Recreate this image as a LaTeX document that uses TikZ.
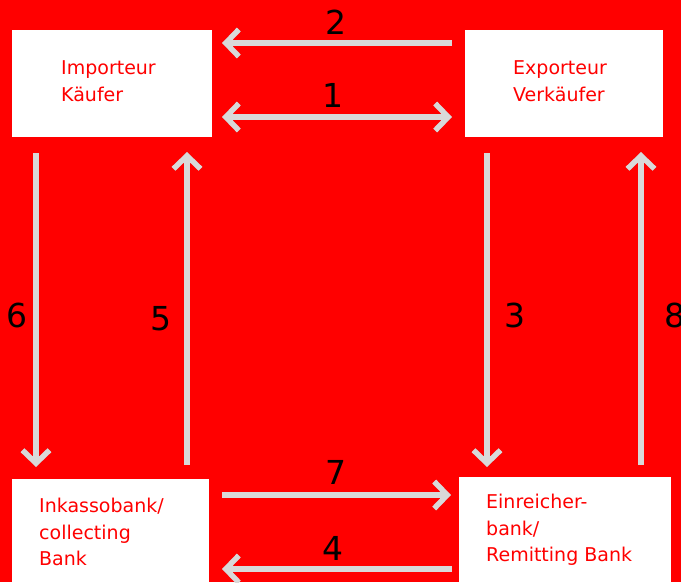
\documentclass[tikz,border=0pt]{standalone}
\usepackage{fontspec}
\setmainfont{DejaVu Sans}
\usetikzlibrary{arrows.meta}
\definecolor{bgred}{RGB}{255,0,0}
\definecolor{arrgray}{RGB}{217,217,217}
\newcommand\garrow[3]{%
  \draw[shadowline,#1] (#2) -- (#3);
  \draw[arrline,#1] (#2) -- (#3);}
\begin{document}
\begin{tikzpicture}[x=1pt,y=-1pt,
  box/.style={draw=none,fill=white,inner sep=0pt},
  boxtext/.style={anchor=west,inner sep=0pt,align=left,text=bgred,
    font=\fontsize{19}{26.5}\selectfont},
  num/.style={inner sep=0pt,text=black,font=\fontsize{33}{33}\selectfont},
  tipstyle/.style={},
  arrline/.style={draw=arrgray,line width=5.5pt},
  shadowline/.style={draw=black,opacity=0.22,line width=5.5pt,shift={(1.5,2)}},
  barb/.tip={Straight Barb[length=13pt,width=27pt,line width=5.5pt]}
]
\useasboundingbox (0,0) rectangle (681,582);
\fill[bgred] (0,0) rectangle (681,582);

% boxes
\node[box,minimum width=200pt,minimum height=107pt] (imp) at (112,83) {};
\node[box,minimum width=198pt,minimum height=107pt] (exp) at (564,83) {};
\node[box,minimum width=197pt,minimum height=111pt] (ink) at (110.5,534.5) {};
\node[box,minimum width=212pt,minimum height=113pt] (ein) at (565,533.5) {};

% box texts
\node[boxtext] (impt) at (61,81) {Importeur\\Käufer};
\node[boxtext] (expt) at (513,81) {Exporteur\\Verkäufer};
\node[boxtext] (inkt) at (39,532) {Inkassobank/\\collecting\\Bank};
\node[boxtext] (eint) at (486,530) {Einreicher-\\bank/\\Remitting Bank};

% arrow end points
\coordinate (a2s) at (452,43);  \coordinate (a2e) at (222,43);
\coordinate (a1s) at (222,117); \coordinate (a1e) at (452,117);
\coordinate (a6s) at (36,153);  \coordinate (a6e) at (36,467);
\coordinate (a5s) at (187,465); \coordinate (a5e) at (187,152);
\coordinate (a3s) at (487,153); \coordinate (a3e) at (487,467);
\coordinate (a8s) at (641,465); \coordinate (a8e) at (641,152);
\coordinate (a7s) at (222,495); \coordinate (a7e) at (451,495);
\coordinate (a4s) at (452,569); \coordinate (a4e) at (222,569);

\garrow{-barb}{a2s}{a2e}
\garrow{barb-barb}{a1s}{a1e}
\garrow{-barb}{a6s}{a6e}
\garrow{-barb}{a5s}{a5e}
\garrow{-barb}{a3s}{a3e}
\garrow{-barb}{a8s}{a8e}
\garrow{-barb}{a7s}{a7e}
\garrow{-barb}{a4s}{a4e}

% labels
\node[num] (l2) at (336,22) {2};
\node[num] (l1) at (333,95) {1};
\node[num] (l6) at (17,315) {6};
\node[num] (l5) at (161,319) {5};
\node[num] (l3) at (515,315) {3};
\node[num] (l8) at (675,315) {8};
\node[num] (l7) at (336,472) {7};
\node[num] (l4) at (333,548) {4};
\end{tikzpicture}
\end{document}
